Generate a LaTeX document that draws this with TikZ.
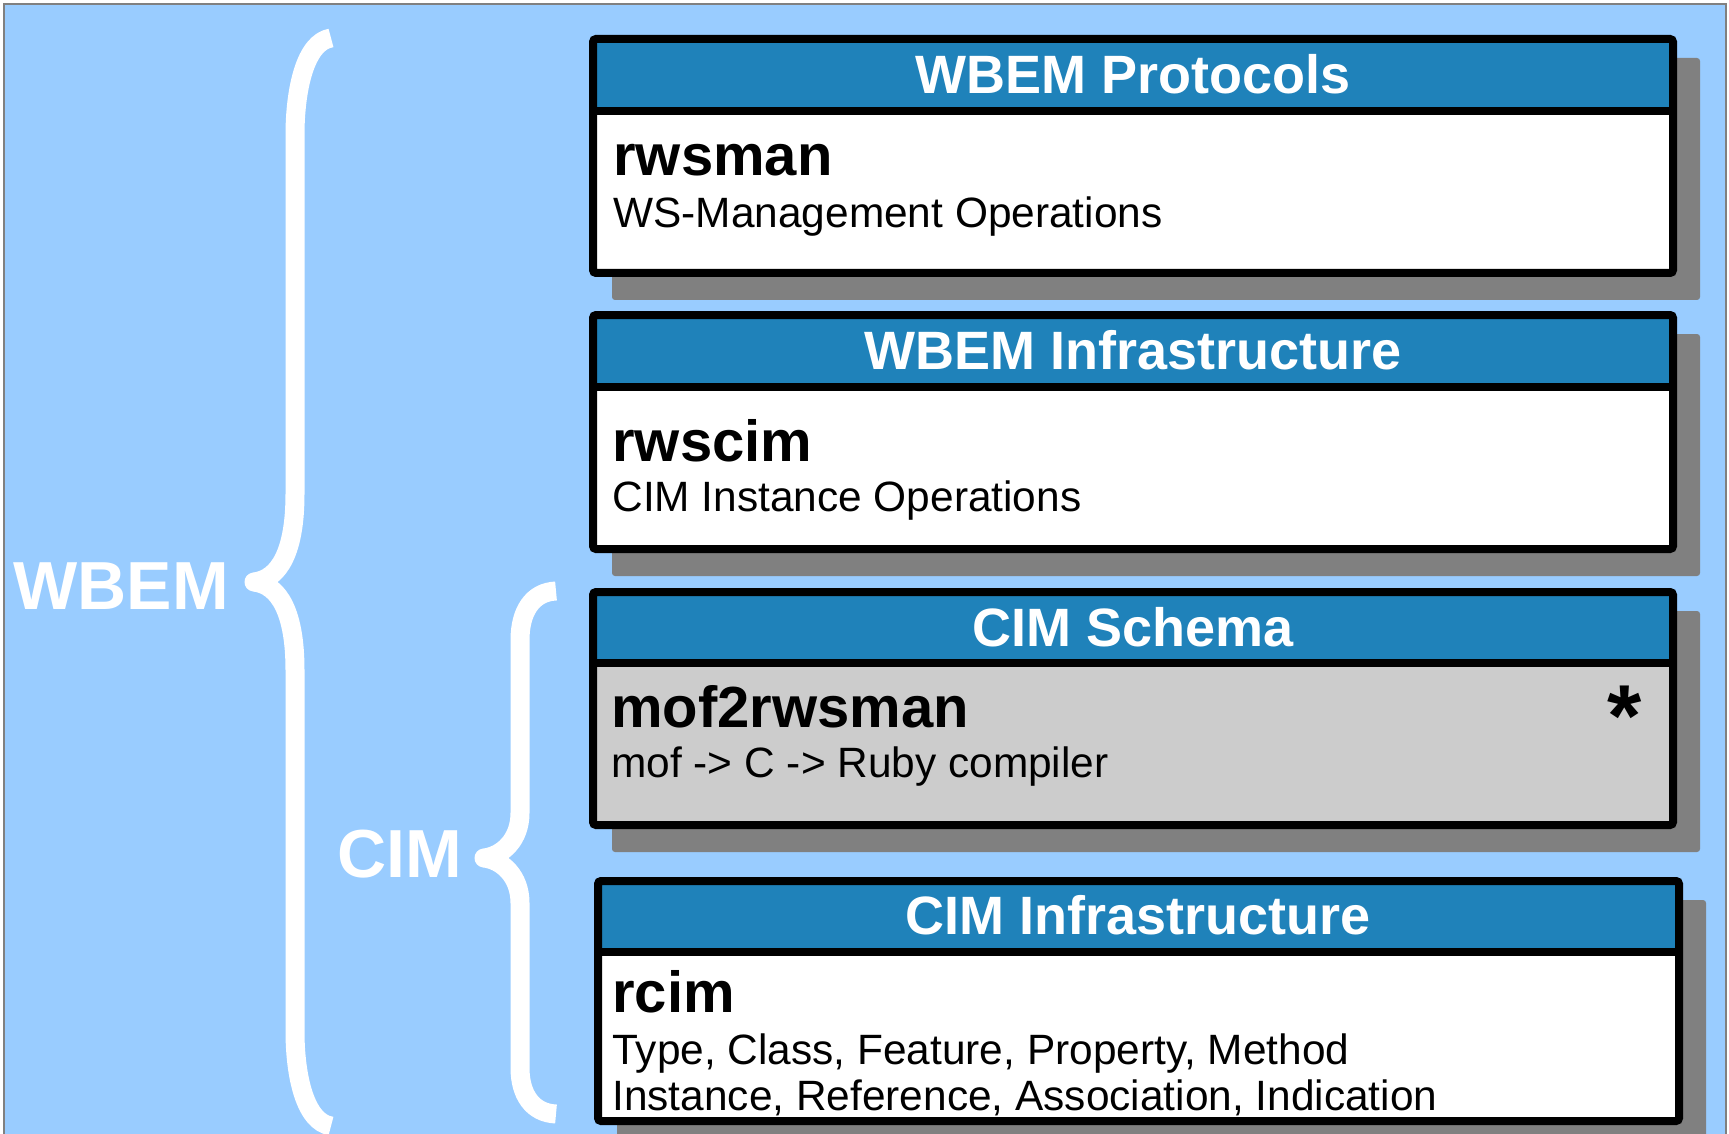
\documentclass[tikz,border=0pt]{standalone}
\usepackage{fontspec}
\setmainfont{Liberation Sans}
\definecolor{sky}{HTML}{99CCFF}
\definecolor{bar}{HTML}{1F82BA}
\definecolor{shadowgray}{HTML}{808080}
\definecolor{bodygray}{HTML}{CCCCCC}
\begin{document}
\begin{tikzpicture}[x=0.5pt,y=-0.5pt,
  frame/.style={black,line width=4pt,rounded corners=1.5pt},
  brace/.style={white,line width=9.5pt,line join=round},
  title/.style={anchor=base,inner sep=0,text=white,font=\fontsize{27}{32}\selectfont\bfseries},
  pkg/.style={anchor=base west,inner sep=0,font=\fontsize{29}{34}\selectfont\bfseries},
  desc/.style={anchor=base west,inner sep=0,font=\fontsize{21.2}{23}\selectfont},
  layer/.style={anchor=base west,inner sep=0,text=white,font=\fontsize{34}{40}\selectfont\bfseries}]
\useasboundingbox (0,0) rectangle (1729,1134);
\clip (0,0) rectangle (1729,1134);
\fill[white] (0,0) rectangle (1729,1134);
\draw[fill=sky,draw=gray,line width=0.6pt] (4,4) rectangle (1726,1150);
% boxes: left/top/divider/bottom/right/body colour
\foreach \l/\t/\d/\b/\r/\body in {593/39/111/273/1673/white, 593/315/387/549/1673/white,
  593/592/663/825/1673/bodygray, 598/881/952/1121/1679/white} {
 \fill[shadowgray,rounded corners=1.5pt] (\l+19,\t+19) rectangle (\r+27,\b+27);
 \fill[bar] (\l,\t) rectangle (\r,\d);
 \fill[\body] (\l,\d) rectangle (\r,\b);
 \draw[frame] (\l,\t) rectangle (\r,\b);
 \draw[black,line width=4pt] (\l,\d) -- (\r,\d);
}
\node[title] (protocols) at (1133,94) {WBEM Protocols};
\node[pkg] (rwsman) at (613,176) {rwsman};
\node[desc] (wsmanops) at (613,228) {WS-Management Operations};
\node[title] (wbeminfra) at (1133,369) {WBEM Infrastructure};
\node[pkg] (rwscim) at (612,461) {rwscim};
\node[desc] (instops) at (612,511) {CIM Instance Operations};
\node[title] (schema) at (1133,646) {CIM Schema};
\node[pkg] (mof) at (611,727) {mof2rwsman};
\node[desc] (compiler) at (611,777) {mof -> C -> Ruby compiler};
\node[pkg,anchor=base,font=\fontsize{44}{50}\selectfont\bfseries] (star) at (1625,746) {*};
\node[title] (ciminfra) at (1138,934) {CIM Infrastructure};
\node[pkg] (rcim) at (612,1012) {rcim};
\node[desc] (types) at (612,1064) {Type, Class, Feature, Property, Method};
\node[desc] (instances) at (612,1110) {Instance, Reference, Association, Indication};
% braces
\draw[brace] (331,38) .. controls (305,42) and (295,90) .. (295,135) -- (295,494)
  .. controls (295,550) and (280,579) .. (254,582) .. controls (280,585) and (295,614) .. (295,670)
  -- (295,1031) .. controls (295,1076) and (305,1122) .. (331,1126);
\draw[brace] (556,591) .. controls (532,592) and (520,612) .. (520,640) -- (520,813)
  .. controls (520,840) and (502,856) .. (484,858) .. controls (502,860) and (520,876) .. (520,903)
  -- (520,1068) .. controls (520,1094) and (532,1113) .. (556,1114);
\node[layer] (wbem) at (13,609) {WBEM};
\node[layer] (cim) at (337,877) {CIM};
\end{tikzpicture}
\end{document}
